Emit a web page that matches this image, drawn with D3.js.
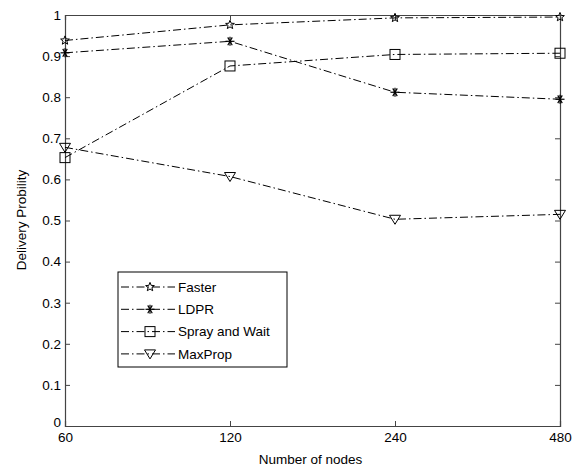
<!DOCTYPE html>
<html><head><meta charset="utf-8">
<script src="https://cdn.jsdelivr.net/npm/d3@7"></script>
<style>
body{margin:0;background:#fff;}
text{font-family:"Liberation Sans",Arial,sans-serif;fill:#000;}
</style></head>
<body><svg id="c" width="580" height="470"></svg>
<script>
const categories = ["60","120","240","480"];
const yTicks = [0,0.1,0.2,0.3,0.4,0.5,0.6,0.7,0.8,0.9,1];
const seriesNames = ["Faster","LDPR","Spray and Wait","MaxProp"];
const faster = [0.938, 0.976, 0.993, 0.995];
const ldpr = [0.908, 0.936, 0.812, 0.795];
const spray = [0.653, 0.876, 0.904, 0.907];
const maxprop = [0.678, 0.607, 0.503, 0.515];
const markers = ["star","asterisk","square","triangle"];
const values = [faster, ldpr, spray, maxprop];

const svg = d3.select("#c");
const L=65,R=560,T=15,B=426;
const x = d3.scalePoint().domain(categories).range([L,R]);
const y = d3.scaleLinear().domain([0,1]).range([B,T]);

const fs = "13.5px";
const gx = svg.append("g").attr("transform",`translate(0,${B})`)
  .call(d3.axisBottom(x).tickSize(-5).tickPadding(4));
const gxt = svg.append("g").attr("transform",`translate(0,${T})`)
  .call(d3.axisTop(x).tickSize(-5).tickFormat(""));
const gy = svg.append("g").attr("transform",`translate(${L},0)`)
  .call(d3.axisLeft(y).tickValues(yTicks).tickSize(-5).tickPadding(4).tickFormat(d=>d3.format("")(+d.toFixed(1))));
const gyr = svg.append("g").attr("transform",`translate(${R},0)`)
  .call(d3.axisRight(y).tickValues(yTicks).tickSize(-5).tickFormat(""));
[gx,gxt,gy,gyr].forEach(g=>{
  g.selectAll("path.domain").attr("stroke","#444").attr("stroke-width",1.2);
  g.selectAll(".tick line").attr("stroke","#444");
  g.selectAll("text").style("font-family","Liberation Sans, Arial, sans-serif").style("font-size",fs).attr("fill","#111");
});
gx.selectAll("text").attr("y",6).attr("dy","0.75em");
gy.selectAll(".tick").filter(d=>d===0).select("text").attr("dy","0.0em");
gx.selectAll(".tick").filter(d=>d==="60" || d==="480").selectAll("line").remove();
gxt.selectAll(".tick").filter(d=>d==="60" || d==="480").selectAll("line").remove();
gy.selectAll(".tick").filter(d=>d===0 || d===1).selectAll("line").remove();
gyr.selectAll(".tick").filter(d=>d===0 || d===1).selectAll("line").remove();

svg.append("text").attr("x",(L+R)/2-2).attr("y",464).attr("text-anchor","middle")
  .style("font-size",fs).text("Number of nodes");
svg.append("text").attr("transform",`translate(26,220) rotate(-90)`).attr("text-anchor","middle")
  .style("font-size",fs).text("Delivery Probility");

function drawMarker(g, type, cx, cy){
  const s = 5;
  if(type==="star"){
    const pts=[];
    for(let i=0;i<10;i++){const r=i%2?2:4.6;const a=-Math.PI/2+i*Math.PI/5;pts.push([cx+r*Math.cos(a),cy+r*Math.sin(a)]);}
    g.append("polygon").attr("points",pts.map(p=>p.join(",")).join(" ")).attr("fill","none").attr("stroke","#000").attr("stroke-width",1);
  } else if(type==="asterisk"){
    for(let i=0;i<3;i++){const a=i*Math.PI/3;
      g.append("line").attr("x1",cx-4.5*Math.cos(a)).attr("y1",cy-4.5*Math.sin(a)).attr("x2",cx+4.5*Math.cos(a)).attr("y2",cy+4.5*Math.sin(a)).attr("stroke","#000").attr("stroke-width",1.2);}
    g.append("line").attr("x1",cx).attr("y1",cy-4.5).attr("x2",cx).attr("y2",cy+4.5).attr("stroke","#000").attr("stroke-width",1.2);
  } else if(type==="square"){
    g.append("rect").attr("x",cx-s).attr("y",cy-s).attr("width",2*s).attr("height",2*s).attr("fill","none").attr("stroke","#000").attr("stroke-width",1);
  } else if(type==="triangle"){
    g.append("polygon").attr("points",`${cx-5.5},${cy-4} ${cx+5.5},${cy-4} ${cx},${cy+5}`).attr("fill","none").attr("stroke","#000").attr("stroke-width",1);
  }
}

const line = d3.line().x((d,i)=>x(categories[i])).y(d=>y(d));
values.forEach((vals,k)=>{
  svg.append("path").attr("d",line(vals)).attr("fill","none").attr("stroke","#000")
    .attr("stroke-width",1).attr("stroke-dasharray","8,3,1.5,3");
  const g = svg.append("g");
  vals.forEach((v,i)=>drawMarker(g, markers[k], x(categories[i]), y(v)));
});

const lg = svg.append("g");
lg.append("rect").attr("x",118).attr("y",272).attr("width",169).attr("height",95)
  .attr("fill","#fff").attr("stroke","#000").attr("stroke-width",1);
seriesNames.forEach((n,k)=>{
  const yy = 287 + k*22.3;
  lg.append("line").attr("x1",121).attr("x2",175).attr("y1",yy).attr("y2",yy)
    .attr("stroke","#000").attr("stroke-width",1).attr("stroke-dasharray","8,3,1.5,3");
  drawMarker(lg, markers[k], 150, yy);
  lg.append("text").attr("x",178).attr("y",yy).attr("dy","0.36em").style("font-size",fs).text(n);
});
</script></body></html>
